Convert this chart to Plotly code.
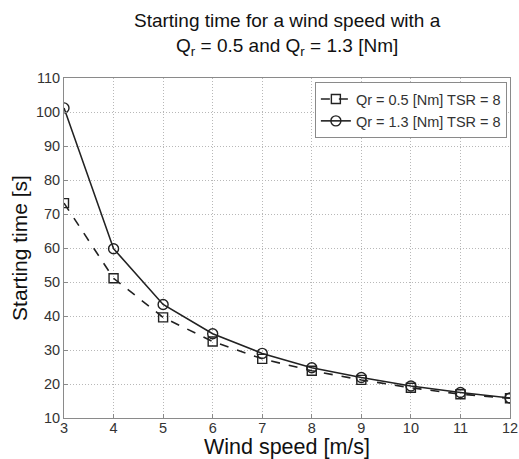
import plotly.graph_objects as go

wind_speed = [3, 4, 5, 6, 7, 8, 9, 10, 11, 12]
t_qr05 = [73.2, 51.1, 39.6, 32.5, 27.4, 23.9, 21.2, 18.9, 17.0, 15.8]
t_qr13 = [101.2, 59.8, 43.4, 34.8, 29.0, 24.8, 21.9, 19.4, 17.5, 15.9]

name05 = "Qr = 0.5 [Nm] TSR = 8"
name13 = "Qr = 1.3 [Nm] TSR = 8"
title_text = "Starting time for a wind speed with a<br>Q<sub>r</sub> = 0.5 and Q<sub>r</sub> = 1.3 [Nm]"

FONT = "Liberation Sans, Arial, sans-serif"

fig = go.Figure()
fig.add_trace(go.Scatter(
    x=wind_speed, y=t_qr05, name=name05, mode="lines+markers",
    line=dict(color="#222", width=1.6, dash="dash"),
    marker=dict(symbol="square-open", size=9, color="#222", line=dict(width=1.4)),
))
fig.add_trace(go.Scatter(
    x=wind_speed, y=t_qr13, name=name13, mode="lines+markers",
    line=dict(color="#222", width=1.6),
    marker=dict(symbol="circle-open", size=10, color="#222", line=dict(width=1.4)),
))

axis_common = dict(
    showgrid=True, gridcolor="#b8b8b8", griddash="1px,2px", gridwidth=1,
    showline=True, linecolor="#8a8a8a", linewidth=1, mirror=True,
    ticks="inside", ticklen=4, tickcolor="#8a8a8a",
    tickfont=dict(family=FONT, size=14.5, color="#333"),
    zeroline=False, automargin=False,
)

fig.update_layout(
    width=519, height=459,
    margin=dict(l=64, r=9, t=78, b=41, autoexpand=False),
    paper_bgcolor="white", plot_bgcolor="white",
    font=dict(family=FONT, color="#111"),
    xaxis=dict(
        range=[3, 12], dtick=1, ticklabelstandoff=-3,
        title=dict(text="Wind speed [m/s]", font=dict(family=FONT, size=21.5, color="#111"), standoff=0),
        **axis_common,
    ),
    yaxis=dict(
        range=[10, 110], dtick=10,
        title=dict(text="Starting time [s]", font=dict(family=FONT, size=21, color="#111"), standoff=2),
        **axis_common,
    ),
    legend=dict(
        x=0.993, y=0.988, xanchor="right", yanchor="top",
        bgcolor="white", bordercolor="#8a8a8a", borderwidth=1,
        font=dict(family=FONT, size=14.5, color="#333"),
        itemwidth=30, tracegroupgap=0,
    ),
    showlegend=True,
    annotations=[dict(
        text=title_text, xref="paper", yref="paper",
        x=0.5, y=1.05, xanchor="center", yanchor="bottom",
        showarrow=False, align="center",
        font=dict(family=FONT, size=19, color="#111"),
    )],
)

fig.write_html("out.html")
